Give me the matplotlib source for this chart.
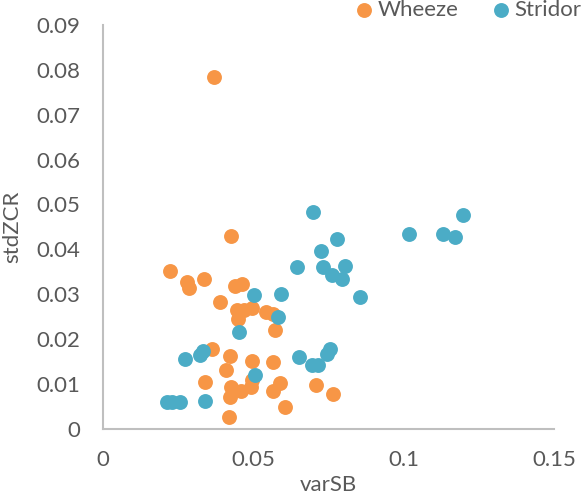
import matplotlib
matplotlib.use("Agg")
import matplotlib.pyplot as plt

# Wheeze points (varSB, stdZCR)
wheeze_x = [0.0368, 0.0425, 0.0222, 0.0280, 0.0288, 0.0335, 0.0439, 0.0464,
            0.0388, 0.0445, 0.0469, 0.0497, 0.0449, 0.0542, 0.0564, 0.0573,
            0.0364, 0.0422, 0.0497, 0.0566, 0.0408, 0.0339, 0.0425, 0.0458,
            0.0492, 0.0495, 0.0422, 0.0564, 0.0590, 0.0606, 0.0421, 0.0709,
            0.0765]
wheeze_y = [0.0784, 0.0430, 0.0351, 0.0327, 0.0313, 0.0333, 0.0318, 0.0324,
            0.0283, 0.0264, 0.0266, 0.0270, 0.0244, 0.0261, 0.0257, 0.0220,
            0.0178, 0.0163, 0.0152, 0.0150, 0.0131, 0.0105, 0.0094, 0.0085,
            0.0094, 0.0109, 0.0072, 0.0084, 0.0102, 0.0048, 0.0026, 0.0099,
            0.0079]

# Stridor points
stridor_x = [0.0501, 0.0592, 0.0581, 0.0453, 0.0644, 0.0272, 0.0333, 0.0322,
             0.0506, 0.0213, 0.0230, 0.0258, 0.0338, 0.0699, 0.0779, 0.0726,
             0.0732, 0.0762, 0.0794, 0.0806, 0.0855, 0.1016, 0.1129, 0.1170,
             0.1196, 0.0651, 0.0695, 0.0715, 0.0746, 0.0756]
stridor_y = [0.0298, 0.0300, 0.0250, 0.0215, 0.0361, 0.0157, 0.0174, 0.0164,
             0.0120, 0.0061, 0.0061, 0.0061, 0.0063, 0.0483, 0.0424, 0.0396,
             0.0360, 0.0342, 0.0335, 0.0362, 0.0295, 0.0434, 0.0434, 0.0427,
             0.0476, 0.0161, 0.0142, 0.0142, 0.0166, 0.0178]

xticks = [0, 0.05, 0.1, 0.15]
xtick_labels = ["0", "0.05", "0.1", "0.15"]
yticks = [0, 0.01, 0.02, 0.03, 0.04, 0.05, 0.06, 0.07, 0.08, 0.09]
ytick_labels = ["0", "0.01", "0.02", "0.03", "0.04", "0.05", "0.06", "0.07", "0.08", "0.09"]

plt.rcParams['font.family'] = ['Lato', 'DejaVu Sans']

fig = plt.figure(figsize=(5.84, 4.96), dpi=100)
ax = fig.add_axes([0.176, 0.135, 0.773, 0.815])

ax.scatter(wheeze_x, wheeze_y, s=115, color="#F79646", label="Wheeze", zorder=3, linewidths=0)
ax.scatter(stridor_x, stridor_y, s=115, color="#4BACC6", label="Stridor", zorder=3, linewidths=0)

ax.set_xlim(0, 0.15)
ax.set_ylim(0, 0.09)
ax.set_xticks(xticks)
ax.set_xticklabels(xtick_labels)
ax.set_yticks(yticks)
ax.set_yticklabels(ytick_labels)
ax.tick_params(length=0, labelsize=16, colors="#595959")
ax.tick_params(axis='y', pad=16)
ax.tick_params(axis='x', pad=15)

for side in ["top", "right"]:
    ax.spines[side].set_visible(False)
for side in ["left", "bottom"]:
    ax.spines[side].set_color("#BFBFBF")
    ax.spines[side].set_linewidth(1.5)

ax.set_xlabel("varSB", fontsize=16, color="#595959", labelpad=4)
ax.set_ylabel("stdZCR", fontsize=16, color="#595959", labelpad=10)

fig.legend(loc="upper right", bbox_to_anchor=(0.995, 1.0), ncol=2, frameon=False,
           fontsize=16, handlelength=0.8, handletextpad=0.2, columnspacing=1.5,
           borderaxespad=0, borderpad=0, markerscale=1.0, labelcolor="#595959")

fig.savefig("out.png", dpi=100)
